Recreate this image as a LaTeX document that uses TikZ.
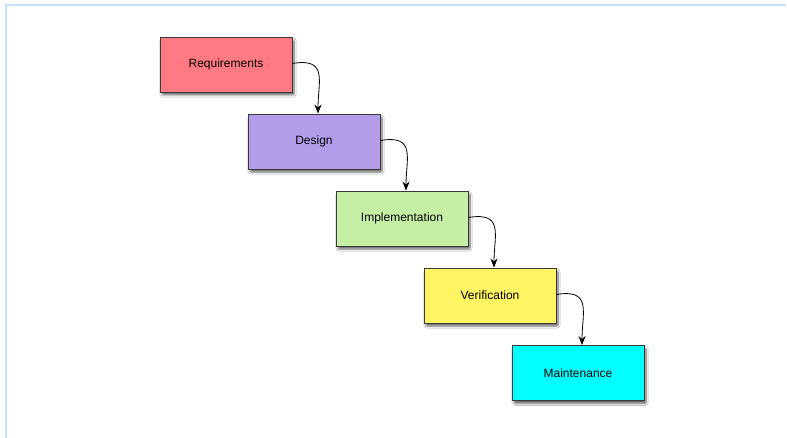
\documentclass[tikz,border=0pt]{standalone}
\usepackage{fontspec}
\setmainfont{Liberation Sans}
\usetikzlibrary{shadows.blur,arrows.meta}
\definecolor{frameblue}{HTML}{C4E0FF}
\definecolor{reqc}{HTML}{FF7A82}
\definecolor{desc}{HTML}{B39DEB}
\definecolor{impc}{HTML}{C6EFA6}
\definecolor{verc}{HTML}{FFF461}
\definecolor{mainc}{HTML}{00FFFF}
\definecolor{edgec}{HTML}{3A3A3A}
\tikzset{
  phase/.style={draw=edgec, line width=0.9pt, minimum width=132pt, minimum height=55pt,
    inner sep=0pt, font=\fontsize{12}{14}\selectfont,
    blur shadow={shadow xshift=2pt, shadow yshift=-3pt, shadow blur steps=6, shadow blur extra rounding=1pt, shadow opacity=60}},
  flow/.style={draw=black, line width=0.8pt, -{Stealth[length=9pt,width=7pt]}}
}
\begin{document}
\begin{tikzpicture}[x=1pt,y=-1pt]
\useasboundingbox (0,0) rectangle (787,438);
\fill[white] (0,0) rectangle (787,438);
\draw[frameblue, line width=1.8pt] (5.8,438) -- (5.8,5) -- (786,5);
\node[phase, fill=reqc] (req) at (226,64.5) {Requirements};
\node[phase, fill=desc] (des) at (314,141.5) {Design};
\node[phase, fill=impc] (imp) at (402,218.5) {Implementation};
\node[phase, fill=verc] (ver) at (490,295.5) {Verification};
\node[phase, fill=mainc] (mai) at (578,373) {Maintenance};
\foreach \a/\b in {req/des, des/imp, imp/ver, ver/mai}{
  \draw[flow] ([yshift=1pt]\a.east) .. controls ++(36,-6) and ++(0,-32) .. ([xshift=4pt]\b.north);
}
\end{tikzpicture}
\end{document}
